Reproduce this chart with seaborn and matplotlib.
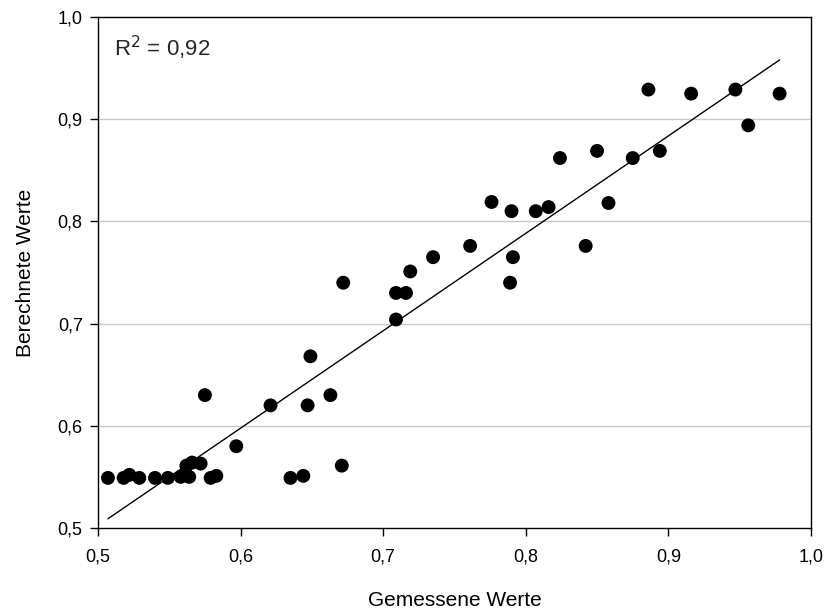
import numpy as np
import pandas as pd
import matplotlib
matplotlib.use('Agg')
import matplotlib.pyplot as plt
import seaborn as sns

# gemessene / berechnete Werte
gemessen = [0.507, 0.518, 0.522, 0.529, 0.540, 0.549, 0.558, 0.564, 0.562, 0.566,
            0.572, 0.575, 0.579, 0.583, 0.597, 0.621, 0.635, 0.644, 0.649, 0.647,
            0.663, 0.671, 0.672, 0.709, 0.716, 0.719, 0.709, 0.735, 0.761, 0.791,
            0.789, 0.776, 0.790, 0.807, 0.816, 0.824, 0.850, 0.875, 0.894,
            0.858, 0.842, 0.886, 0.916, 0.947, 0.978, 0.956]
berechnet = [0.549, 0.549, 0.552, 0.549, 0.549, 0.549, 0.550, 0.550, 0.561, 0.564,
             0.563, 0.630, 0.549, 0.551, 0.580, 0.620, 0.549, 0.551, 0.668, 0.620,
             0.630, 0.561, 0.740, 0.730, 0.730, 0.751, 0.704, 0.765, 0.776, 0.765,
             0.740, 0.819, 0.810, 0.810, 0.814, 0.862, 0.869, 0.862, 0.869,
             0.818, 0.776, 0.929, 0.925, 0.929, 0.925, 0.894]

# Regressionsgerade (Endpunkte)
linie_x = [0.507, 0.978]
linie_y = [0.509, 0.958]

ticks = [0.5, 0.6, 0.7, 0.8, 0.9, 1.0]
tick_labels = ['0,5', '0,6', '0,7', '0,8', '0,9', '1,0']
grid_y = [0.6, 0.7, 0.8, 0.9]

df = pd.DataFrame({'gemessen': gemessen, 'berechnet': berechnet})
df_linie = pd.DataFrame({'x': linie_x, 'y': linie_y})

sns.set_style('ticks')
plt.rcParams['font.family'] = ['Liberation Sans', 'DejaVu Sans']

fig = plt.figure(figsize=(8.26, 6.12), dpi=100)
ax = fig.add_axes([0.1186, 0.1373, 0.8632, 0.8349])

for g in grid_y:
    ax.axhline(g, color='#c8c8c8', lw=1.0, zorder=0)

sns.lineplot(data=df_linie, x='x', y='y', color='black', lw=1.0, ax=ax, zorder=2)
sns.scatterplot(data=df, x='gemessen', y='berechnet', color='black', s=100,
                edgecolor='none', ax=ax, zorder=3)

ax.set_xlim(0.5, 1.0)
ax.set_ylim(0.5, 1.0)
ax.set_xticks(ticks)
ax.set_xticklabels(tick_labels)
ax.set_yticks(ticks)
ax.set_yticklabels(tick_labels)
ax.tick_params(direction='out', length=6, width=1, labelsize=13, color='black',
               labelcolor='black')
ax.tick_params(axis='x', pad=9)
ax.tick_params(axis='y', pad=5)
for s in ax.spines.values():
    s.set_visible(True)
    s.set_color('black')
    s.set_linewidth(1.0)

ax.set_xlabel('Gemessene Werte', fontsize=15, labelpad=18, color='black')
ax.set_ylabel('Berechnete Werte', fontsize=15, labelpad=16, color='black')
ax.text(0.023, 0.94, 'R$^2$ = 0,92', transform=ax.transAxes, fontsize=16,
        va='center', ha='left')

fig.savefig('out.png', dpi=100)
